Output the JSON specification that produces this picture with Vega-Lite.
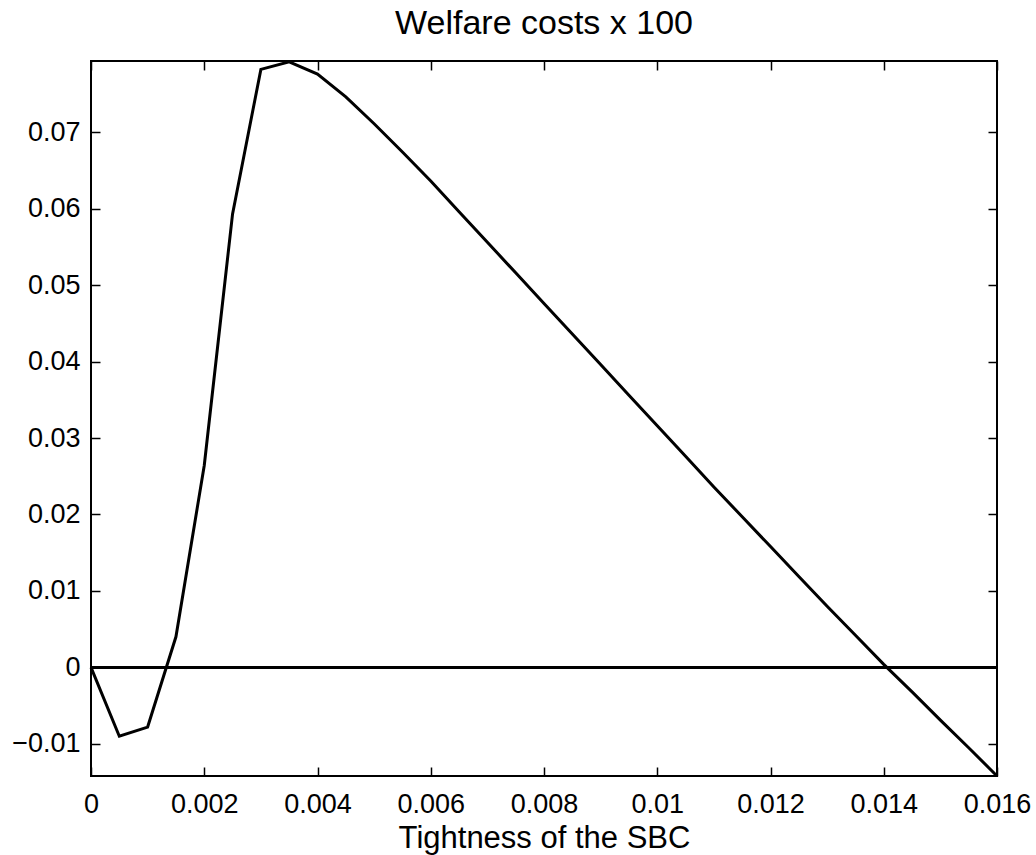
{
  "$schema": "https://vega.github.io/schema/vega-lite/v6.json",
  "width": 906,
  "height": 715,
  "autosize": {"type": "none"},
  "padding": {"left": 91, "top": 61, "right": 39, "bottom": 79},
  "background": "white",
  "title": {
    "text": "Welfare costs x 100",
    "font": "Liberation Sans",
    "fontSize": 34,
    "fontWeight": "normal",
    "color": "black",
    "offset": 15
  },
  "config": {
    "view": {"stroke": "black", "strokeWidth": 2},
    "axis": {
      "labelFont": "Liberation Sans",
      "labelFontSize": 27,
      "labelColor": "black",
      "titleFont": "Liberation Sans",
      "titleFontSize": 31,
      "titleFontWeight": "normal",
      "titleColor": "black",
      "tickColor": "black",
      "tickWidth": 1.5,
      "tickSize": -9,
      "domain": false,
      "grid": false
    }
  },
  "data": {
    "values": [
      {"x": 0, "y": 0, "series": "curve"},
      {"x": 0.0005, "y": -0.009, "series": "curve"},
      {"x": 0.001, "y": -0.0078, "series": "curve"},
      {"x": 0.0015, "y": 0.004, "series": "curve"},
      {"x": 0.002, "y": 0.0264, "series": "curve"},
      {"x": 0.0025, "y": 0.0593, "series": "curve"},
      {"x": 0.003, "y": 0.0782, "series": "curve"},
      {"x": 0.0035, "y": 0.0792, "series": "curve"},
      {"x": 0.004, "y": 0.0776, "series": "curve"},
      {"x": 0.0045, "y": 0.0746, "series": "curve"},
      {"x": 0.005, "y": 0.0711, "series": "curve"},
      {"x": 0.0055, "y": 0.0674, "series": "curve"},
      {"x": 0.006, "y": 0.0636, "series": "curve"},
      {"x": 0.0065, "y": 0.0596, "series": "curve"},
      {"x": 0.007, "y": 0.0556, "series": "curve"},
      {"x": 0.0075, "y": 0.0516, "series": "curve"},
      {"x": 0.008, "y": 0.0476, "series": "curve"},
      {"x": 0.0085, "y": 0.0436, "series": "curve"},
      {"x": 0.009, "y": 0.0396, "series": "curve"},
      {"x": 0.0095, "y": 0.0356, "series": "curve"},
      {"x": 0.01, "y": 0.0316, "series": "curve"},
      {"x": 0.0105, "y": 0.0276, "series": "curve"},
      {"x": 0.011, "y": 0.0236, "series": "curve"},
      {"x": 0.0115, "y": 0.0197, "series": "curve"},
      {"x": 0.012, "y": 0.0158, "series": "curve"},
      {"x": 0.0125, "y": 0.0119, "series": "curve"},
      {"x": 0.013, "y": 0.008, "series": "curve"},
      {"x": 0.0135, "y": 0.0042, "series": "curve"},
      {"x": 0.014, "y": 0.0004, "series": "curve"},
      {"x": 0.0145, "y": -0.0032, "series": "curve"},
      {"x": 0.015, "y": -0.0069, "series": "curve"},
      {"x": 0.0155, "y": -0.0105, "series": "curve"},
      {"x": 0.016, "y": -0.0142, "series": "curve"},
      {"x": 0, "y": 0, "series": "zero"},
      {"x": 0.016, "y": 0, "series": "zero"}
    ]
  },
  "resolve": {"axis": {"x": "independent", "y": "independent"}},
  "layer": [
    {
      "transform": [{"filter": "datum.series === 'curve'"}],
      "mark": {"type": "line", "color": "black", "strokeWidth": 3, "clip": false},
      "encoding": {
        "x": {
          "field": "x",
          "type": "quantitative",
          "scale": {"domain": [0, 0.016], "nice": false, "zero": false},
          "axis": {
            "orient": "bottom",
            "title": "Tightness of the SBC",
            "values": [0, 0.002, 0.004, 0.006, 0.008, 0.01, 0.012, 0.014, 0.016],
            "format": "~g",
            "labelPadding": 24,
            "titlePadding": 6,
            "labelFlush": false
          }
        },
        "y": {
          "field": "y",
          "type": "quantitative",
          "scale": {"domain": [-0.0142, 0.0793], "nice": false, "zero": false},
          "axis": {
            "orient": "left",
            "title": null,
            "values": [-0.01, 0, 0.01, 0.02, 0.03, 0.04, 0.05, 0.06, 0.07],
            "format": "~g",
            "labelPadding": 20,
            "labelFlush": false
          }
        }
      }
    },
    {
      "transform": [{"filter": "datum.series === 'zero'"}],
      "mark": {"type": "line", "color": "black", "strokeWidth": 3},
      "encoding": {
        "x": {
          "field": "x",
          "type": "quantitative",
          "axis": {
            "orient": "top",
            "title": null,
            "labels": false,
            "values": [0, 0.002, 0.004, 0.006, 0.008, 0.01, 0.012, 0.014, 0.016]
          }
        },
        "y": {
          "field": "y",
          "type": "quantitative",
          "axis": {
            "orient": "right",
            "title": null,
            "labels": false,
            "values": [-0.01, 0, 0.01, 0.02, 0.03, 0.04, 0.05, 0.06, 0.07]
          }
        }
      }
    }
  ]
}
